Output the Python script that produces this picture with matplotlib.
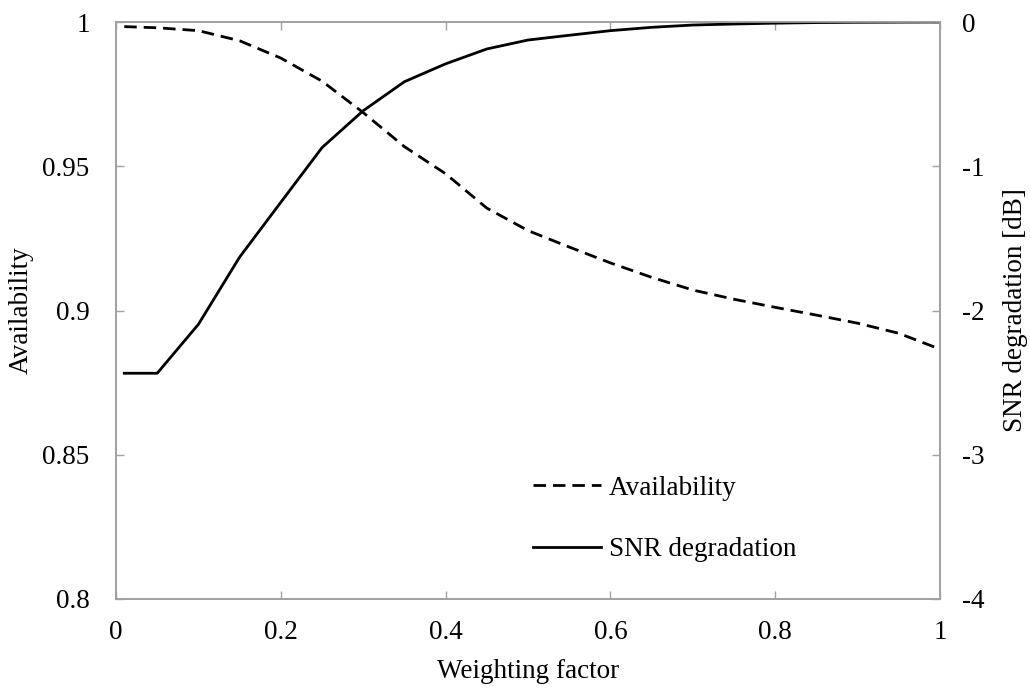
import matplotlib
matplotlib.use("Agg")
from matplotlib import pyplot

weighting = [0.01, 0.05, 0.1, 0.15, 0.2, 0.25, 0.3, 0.35, 0.4, 0.45, 0.5,
             0.55, 0.6, 0.65, 0.7, 0.75, 0.8, 0.85, 0.9, 0.95, 1.0]
availability = [0.9984, 0.998, 0.997, 0.9935, 0.9875, 0.9795, 0.9686, 0.9568,
                0.9474, 0.9355, 0.9277, 0.922, 0.9165, 0.9115, 0.9071, 0.9039,
                0.9011, 0.8984, 0.8956, 0.8921, 0.8866]
snr_degradation = [-2.435, -2.435, -2.096, -1.63, -1.25, -0.871, -0.615,
                   -0.414, -0.29, -0.187, -0.125, -0.092, -0.060, -0.037,
                   -0.021, -0.014, -0.008, -0.004, -0.002, -0.001, 0.0]

x_ticks = [0, 0.2, 0.4, 0.6, 0.8, 1]
x_tick_labels = ["0", "0.2", "0.4", "0.6", "0.8", "1"]
left_ticks = [0.8, 0.85, 0.9, 0.95, 1.0]
left_tick_labels = ["0.8", "0.85", "0.9", "0.95", "1"]
right_ticks = [-4, -3, -2, -1, 0]
right_tick_labels = ["-4", "-3", "-2", "-1", "0"]

pyplot.rcParams["font.family"] = ["Liberation Serif", "DejaVu Serif"]
pyplot.rcParams["font.size"] = 19.5

frame_color = "#a0a0a0"

fig = pyplot.figure(figsize=(10.3, 6.88), dpi=100)
ax = fig.add_axes([116 / 1030, 1 - 599 / 688, 824 / 1030, 577 / 688])
ax2 = ax.twinx()

line_avail, = ax.plot(weighting, availability, color="black", lw=2.0,
                      linestyle=(0, (4.5, 2.5)), label="Availability")
line_snr, = ax2.plot(weighting, snr_degradation, color="black", lw=2.0,
                     label="SNR degradation")

ax.set_xlim(0, 1)
ax.set_ylim(0.8, 1.0)
ax2.set_ylim(-4, 0)
ax.set_xticks(x_ticks, x_tick_labels)
ax.set_yticks(left_ticks, left_tick_labels)
ax2.set_yticks(right_ticks, right_tick_labels)

for a in (ax, ax2):
    for spine in a.spines.values():
        spine.set_color(frame_color)
        spine.set_linewidth(1.2)
ax.tick_params(axis="x", direction="in", length=6, width=1, color=frame_color,
               top=True, pad=15)
ax.tick_params(axis="y", direction="in", length=6, width=1, color=frame_color,
               pad=19)
ax2.tick_params(axis="y", direction="in", length=6, width=1, color=frame_color,
                pad=16)

ax.set_xlabel("Weighting factor", labelpad=10)
ax.set_ylabel("Availability")
ax2.set_ylabel("SNR degradation [dB]")
ax.yaxis.set_label_coords(-0.1, 0.5)
ax2.yaxis.set_label_coords(1.076, 0.5)

ax.legend([line_avail, line_snr], ["Availability", "SNR degradation"],
          loc="upper left", bbox_to_anchor=(0.506, 0.214), frameon=False,
          handlelength=2.5, handletextpad=0.3, labelspacing=1.35,
          borderaxespad=0, borderpad=0)

fig.savefig("out.png", dpi=100)
